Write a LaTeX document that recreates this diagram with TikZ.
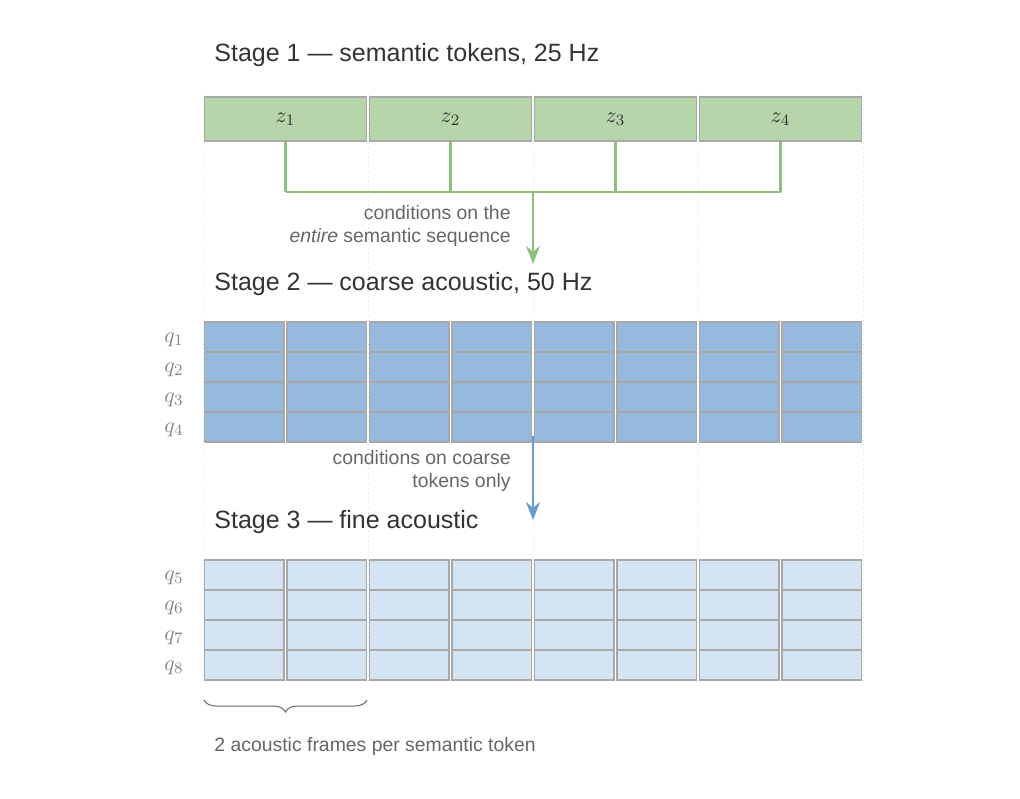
\documentclass[tikz,border=0pt]{standalone}
\usepackage{fontspec}
\setmainfont{Liberation Sans}
\usetikzlibrary{arrows.meta,decorations.pathreplacing}

\definecolor{semfill}{HTML}{B7D5AB}
\definecolor{semline}{HTML}{8DC07E}
\definecolor{crsfill}{HTML}{97B9DE}
\definecolor{crsline}{HTML}{6B9AD0}
\definecolor{finfill}{HTML}{D4E4F3}
\definecolor{cellborder}{HTML}{A8A8A8}
\definecolor{titletext}{HTML}{333333}
\definecolor{notetext}{HTML}{666666}
\definecolor{guideline}{HTML}{DDDDDD}

\tikzset{
  token/.style={draw=cellborder, line width=0.75pt, fill=semfill, minimum width=81pt,
    minimum height=22pt, inner sep=0pt, text=titletext, font=\fontsize{11}{13}\selectfont},
  cell/.style={draw=cellborder, line width=0.75pt, minimum width=39.75pt,
    minimum height=15pt, inner sep=0pt},
  stagetitle/.style={text=titletext, inner sep=0pt, font=\fontsize{12.5}{15}\selectfont},
  note/.style={text=notetext, inner sep=0pt, align=right, font=\fontsize{9.7}{11.5}\selectfont},
  level/.style={text=notetext!80!white, inner sep=0pt, font=\fontsize{11}{13}\selectfont},
  guide/.style={guideline, line width=0.4pt, dotted},
}

\begin{document}
\begin{tikzpicture}[x=0.5pt, y=-0.5pt]
  \useasboundingbox (0,0) rectangle (1020,798);

  \def \tok {165}    % width of one semantic token
  \def \frm {82.5}   % width of one acoustic frame
  \def \xo {203}     % left edge of the sequence

  % guides at token boundaries
  \foreach \k in {0,...,4}
    \draw[guide] ({\xo+\tok*\k},94) -- ({\xo+\tok*\k},683);

  % stage 1
  \node[stagetitle, anchor=base west] (stage1) at (214,61) {Stage 1 — semantic tokens, 25 Hz};
  \foreach \i in {1,...,4}
    \node[token] (z\i) at ({\xo+\tok*(\i-0.5)},119) {\(z_{\i}\)};

  \coordinate (bus) at (533,192);
  \coordinate (arr1) at (533,264);
  \foreach \i in {1,...,4}
    \draw[semline, line width=1.2pt] (z\i.south) -- (z\i.south |- bus);
  \draw[semline, line width=1.2pt] (z1.south |- bus) -- (z4.south |- bus);
  \draw[semline, line width=1.2pt, -{Stealth[length=9pt, width=7pt]}] (bus) -- (arr1);
  \node[note, anchor=north east] (note1) at (511,205)
    {conditions on the\\\textit{entire} semantic sequence};

  % stage 2
  \node[stagetitle, anchor=base west] (stage2) at (214,290) {Stage 2 — coarse acoustic, 50 Hz};
  \foreach \r in {1,...,4} {
    \node[level, anchor=mid east] (lc\r) at (184,{337+30*(\r-1)}) {\(q_{\r}\)};
    \foreach \c in {1,...,8}
      \node[cell, fill=crsfill] (c-\r-\c) at ({\xo+\frm*(\c-0.5)},{337+30*(\r-1)}) {};
  }

  \coordinate (arr2s) at (533,436);
  \coordinate (arr2e) at (533,520);
  \draw[crsline, line width=1pt, -{Stealth[length=9pt, width=7pt]}] (arr2s) -- (arr2e);
  \node[note, anchor=north east] (note2) at (511,450)
    {conditions on coarse\\tokens only};

  % stage 3
  \node[stagetitle, anchor=base west] (stage3) at (214,528) {Stage 3 — fine acoustic};
  \foreach \r in {1,...,4} {
    \node[level, anchor=mid east] (lf\r) at (184,{575+30*(\r-1)}) {\(q_{\the\numexpr\r+4\relax}\)};
    \foreach \c in {1,...,8}
      \node[cell, fill=finfill] (f-\r-\c) at ({\xo+\frm*(\c-0.5)},{575+30*(\r-1)}) {};
  }

  % frames per token
  \coordinate (brl) at (204,700);
  \coordinate (brr) at (367,700);
  \draw[notetext, line width=0.5pt, decorate, decoration={brace, mirror, amplitude=6pt}] (brl) -- (brr);
  \node[note, anchor=base west] (ratio) at (214,751) {2 acoustic frames per semantic token};
\end{tikzpicture}
\end{document}
